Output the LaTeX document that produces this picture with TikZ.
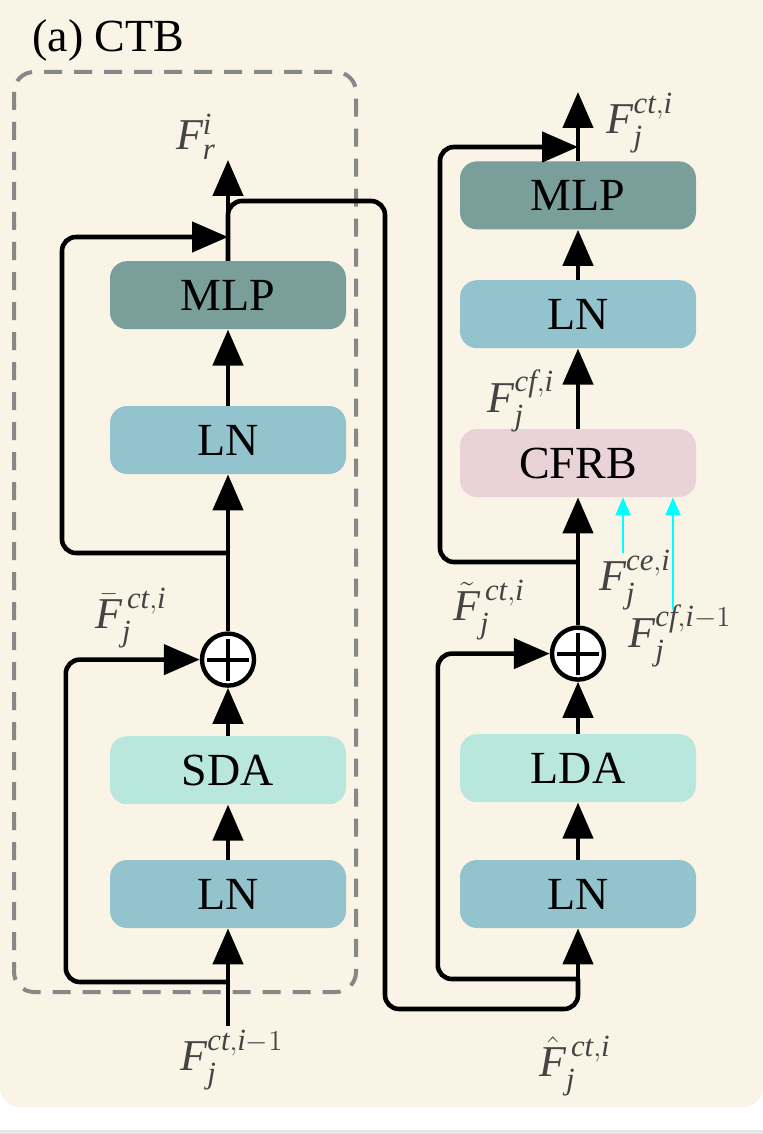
\documentclass[tikz,border=0pt]{standalone}
\usepackage{amsmath}
\usepackage{fontspec}
\setmainfont{Liberation Serif}
\usetikzlibrary{arrows.meta,positioning}
\definecolor{bgcream}{HTML}{FAF4E6}
\definecolor{mlpcol}{HTML}{7A9E99}
\definecolor{lncol}{HTML}{93C4CE}
\definecolor{attcol}{HTML}{B9E6DD}
\definecolor{cfrbcol}{HTML}{EAD3D8}
\definecolor{dashgray}{HTML}{888888}
\definecolor{labgray}{HTML}{444444}
\definecolor{stripgray}{HTML}{E6E6E6}
\definecolor{aqua}{HTML}{00FFFF}
\newcommand{\feat}[3]{\mathit{#1}_{\mathit{#2}}^{\mathit{#3}}}
\tikzset{
  box/.style={rounded corners=8.5pt, minimum width=118pt, minimum height=34pt,
              inner sep=0pt, font=\fontsize{23}{26}\selectfont},
  line/.style={line width=2.3pt, rounded corners=7pt},
  arr/.style={line, -{Triangle[length=18pt,width=15pt]}},
  cyanarr/.style={aqua, line width=1pt, -{Triangle[length=9pt,width=7.5pt]}},
  plusnode/.style={circle, draw, fill=white, line width=2.2pt, minimum size=26pt, inner sep=0pt,
    path picture={
      \draw[line width=2pt] ([xshift=-10.5pt]path picture bounding box.center) -- ([xshift=10.5pt]path picture bounding box.center);
      \draw[line width=2pt] ([yshift=-10.5pt]path picture bounding box.center) -- ([yshift=10.5pt]path picture bounding box.center);
    }},
  lab/.style={text=labgray, inner sep=0pt, font=\fontsize{22}{26}\selectfont},
}

\begin{document}
\begin{tikzpicture}[x=0.5pt,y=-0.5pt]
  \useasboundingbox (0,0) rectangle (763,1134);
  \fill[bgcream, rounded corners=10pt] (0,-20) rectangle (763,1107);
  \fill[stripgray] (0,1130) rectangle (763,1134);

  \node[anchor=west, inner sep=0pt, font=\fontsize{23}{26}\selectfont] (title) at (32,40) {(a) CTB};

  % short-range block
  \draw[dashgray, line width=2pt, dash pattern=on 9pt off 6pt, rounded corners=10pt]
    (14,72) rectangle (356,992);

  \node[box, fill=lncol] (lln1) at (228,894) {LN};
  \node[box, fill=attcol, above=27.5pt of lln1] (sda) {SDA};
  \node[plusnode, above=24pt of sda] (lplus) {};
  \node[box, fill=lncol, above=78.5pt of lplus] (lln2) {LN};
  \node[box, fill=mlpcol, above=38pt of lln2] (lmlp) {MLP};

  % long-range block
  \node[box, fill=lncol] (rln1) at (578,894) {LN};
  \node[box, fill=attcol, above=28.5pt of rln1] (lda) {LDA};
  \node[plusnode, above=26pt of lda] (rplus) {};
  \node[box, fill=cfrbcol, above=64pt of rplus] (cfrb) {CFRB};
  \node[box, fill=lncol, above=40pt of cfrb] (rln2) {LN};
  \node[box, fill=mlpcol, above=25pt of rln2] (rmlp) {MLP};

  \coordinate (lin0) at (228,1026);
  \coordinate (lin) at (228,982);
  \coordinate (lbr) at (228,553);
  \coordinate (lj) at (228,237);
  \coordinate (lout) at (228,160);
  \coordinate (rin) at (578,979);
  \coordinate (rbr) at (578,562);
  \coordinate (rj) at (578,147);
  \coordinate (rout) at (578,92);
  \coordinate (ce) at (623,553);
  \coordinate (cf1) at (673,610);

  % left column
  \draw[arr] (lin0) -- (lln1.south);
  \draw[arr] (lln1) -- (sda);
  \draw[arr] (sda) -- (lplus);
  \draw[arr] (lplus) -- (lln2);
  \draw[arr] (lln2) -- (lmlp);
  \draw[arr] (lmlp.north) -- (lout);
  \draw[arr] (lin) -| ([xshift=-67pt]lplus.west) -- (lplus.west);
  \draw[arr] (lbr) -| ([xshift=-83pt]lj) -- (lj);

  % hand-over to the right column
  \draw[line] (lmlp.north) |- (385,201) -- (385,1009) -| (rin);

  % right column
  \draw[arr] (rin) -- (rln1.south);
  \draw[arr] (rln1) -- (lda);
  \draw[arr] (lda) -- (rplus);
  \draw[arr] (rplus) -- (cfrb);
  \draw[arr] (cfrb) -- (rln2);
  \draw[arr] (rln2) -- (rmlp);
  \draw[arr] (rmlp.north) -- (rout);
  \draw[arr] (rin) -| ([xshift=-56pt]rplus.west) -- (rplus.west);
  \draw[arr] (rbr) -| ([xshift=-69pt]rj) -- (rj);

  % labels
  \node[lab] (fr) at (196,137) {$\feat{F}{r}{i}$};
  \node[lab] (fct) at (640,123) {$\feat{F}{j}{ct,i}$};
  \node[lab] (fbar) at (131,618) {$\bar{\mathit{F}}_{\mathit{j}}^{\,\mathit{ct,i}}$};
  \node[lab] (ftil) at (489,610) {$\tilde{\mathit{F}}_{\mathit{j}}^{\,\mathit{ct,i}}$};
  \node[lab] (fcf) at (521,401) {$\feat{F}{j}{cf,i}$};
  \node[lab] (fce) at (635,580) {$\feat{F}{j}{ce,i}$};
  \node[lab] (fcf1) at (680,636) {$\mathit{F}_{\mathit{j}}^{\mathit{cf,i}-1}$};
  \node[lab] (fin) at (232,1060) {$\mathit{F}_{\mathit{j}}^{\mathit{ct,i}-1}$};
  \node[lab] (fhat) at (575,1066) {$\hat{\mathit{F}}_{\mathit{j}}^{\,\mathit{ct,i}}$};

  \draw[cyanarr] (ce) -- (ce |- cfrb.south);
  \draw[cyanarr] (cf1) -- (cf1 |- cfrb.south);
\end{tikzpicture}
\end{document}
